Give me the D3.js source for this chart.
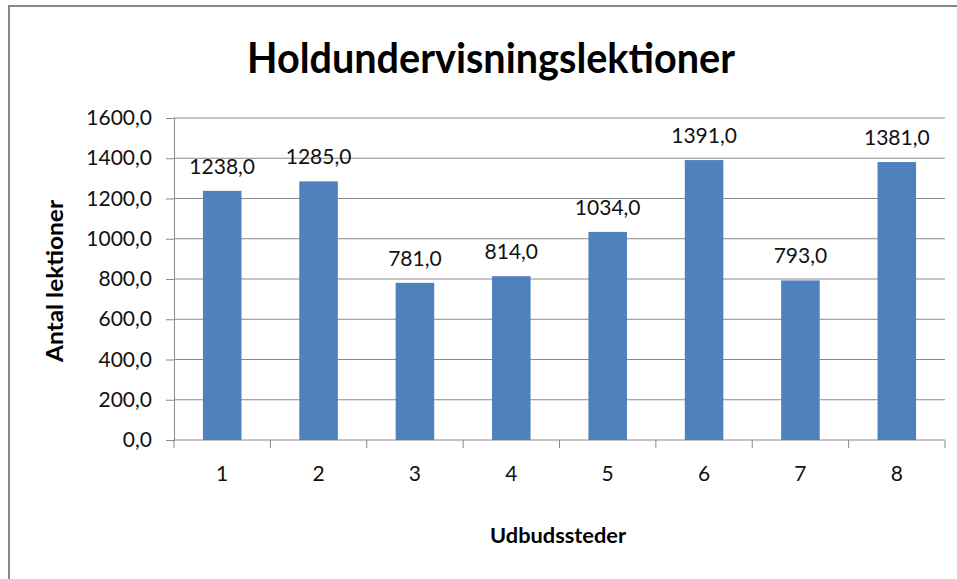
<!DOCTYPE html>
<html>
<head>
<meta charset="utf-8">
<script src="https://cdn.jsdelivr.net/npm/d3@7"></script>
<style>
  body { margin: 0; background: #fff; }
  svg { display: block; font-family: Lato, "Open Sans", sans-serif; }
</style>
</head>
<body>
<div id="chart"></div>
<script>
// Data
const categories = ["1", "2", "3", "4", "5", "6", "7", "8"];
const values = [1238, 1285, 781, 814, 1034, 1391, 793, 1381];
const yTicks = [0, 200, 400, 600, 800, 1000, 1200, 1400, 1600];

const chartTitle = "Holdundervisningslektioner";
const yTitle = "Antal lektioner";
const xTitle = "Udbudssteder";

const width = 957, height = 579;
const margin = { top: 118, right: 12, bottom: 139, left: 174 };
const fmt = v => d3.format(".1f")(v).replace(".", ",");

const svg = d3.select("#chart").append("svg")
  .attr("width", width)
  .attr("height", height);

// chart border
svg.append("rect")
  .attr("x", 9).attr("y", 6)
  .attr("width", width + 10).attr("height", height + 10)
  .attr("fill", "none")
  .attr("stroke", "#878787")
  .attr("stroke-width", 2);

const x = d3.scaleBand()
  .domain(categories)
  .range([margin.left, width - margin.right])
  .padding(0);

const y = d3.scaleLinear()
  .domain([0, 1600])
  .range([height - margin.bottom, margin.top]);

// gridlines
svg.append("g")
  .selectAll("line")
  .data(yTicks.filter(d => d > 0))
  .enter().append("line")
  .attr("x1", margin.left)
  .attr("x2", width - margin.right)
  .attr("y1", d => y(d))
  .attr("y2", d => y(d))
  .attr("stroke", "#8a8a8a")
  .attr("stroke-width", 1);

// y axis
const yAxis = svg.append("g")
  .attr("transform", `translate(${margin.left},0)`)
  .call(d3.axisLeft(y).tickValues(yTicks).tickFormat(fmt).tickSize(8).tickPadding(14));
yAxis.select(".domain").attr("stroke", "#8a8a8a");
yAxis.selectAll(".tick line").attr("stroke", "#8a8a8a");
yAxis.selectAll("text")
  .attr("font-size", "21px")
  .attr("fill", "#111")
  .style("font-family", "Lato, sans-serif");

// x axis (ticks at category boundaries)
const xAxis = svg.append("g")
  .attr("transform", `translate(0,${y(0)})`)
  .call(d3.axisBottom(x).tickSize(0).tickPadding(26));
xAxis.select(".domain").attr("stroke", "#8a8a8a").attr("d", `M${margin.left},0H${width - margin.right}`);
xAxis.selectAll("text")
  .attr("font-size", "21px")
  .attr("fill", "#111")
  .style("font-family", "Lato, sans-serif");
xAxis.selectAll(".boundary")
  .data(d3.range(categories.length + 1))
  .enter().append("line")
  .attr("x1", i => margin.left + i * x.step())
  .attr("x2", i => margin.left + i * x.step())
  .attr("y1", 0).attr("y2", 8)
  .attr("stroke", "#8a8a8a");

// bars
const barW = x.bandwidth() * 0.4;
svg.append("g")
  .selectAll("rect")
  .data(values)
  .enter().append("rect")
  .attr("x", (d, i) => x(categories[i]) + (x.bandwidth() - barW) / 2)
  .attr("y", d => y(d))
  .attr("width", barW)
  .attr("height", d => y(0) - y(d))
  .attr("fill", "#4f81bd");

// data labels
svg.append("g")
  .selectAll("text")
  .data(values)
  .enter().append("text")
  .attr("x", (d, i) => x(categories[i]) + x.bandwidth() / 2)
  .attr("y", d => y(d) - 17)
  .attr("text-anchor", "middle")
  .attr("font-size", "21px")
  .attr("fill", "#111")
  .text(d => fmt(d));

// titles
svg.append("text")
  .attr("x", 491).attr("y", 73)
  .attr("text-anchor", "middle")
  .attr("font-size", "42px")
  .attr("font-weight", "bold")
  .attr("textLength", 488)
  .attr("lengthAdjust", "spacingAndGlyphs")
  .text(chartTitle);

svg.append("text")
  .attr("transform", "translate(63,281) rotate(-90)")
  .attr("text-anchor", "middle")
  .attr("font-size", "23px")
  .attr("font-weight", "bold")
  .attr("textLength", 162)
  .attr("lengthAdjust", "spacingAndGlyphs")
  .text(yTitle);

svg.append("text")
  .attr("x", 558).attr("y", 543)
  .attr("text-anchor", "middle")
  .attr("font-size", "21px")
  .attr("font-weight", "bold")
  .attr("textLength", 136)
  .attr("lengthAdjust", "spacingAndGlyphs")
  .text(xTitle);
</script>
</body>
</html>
